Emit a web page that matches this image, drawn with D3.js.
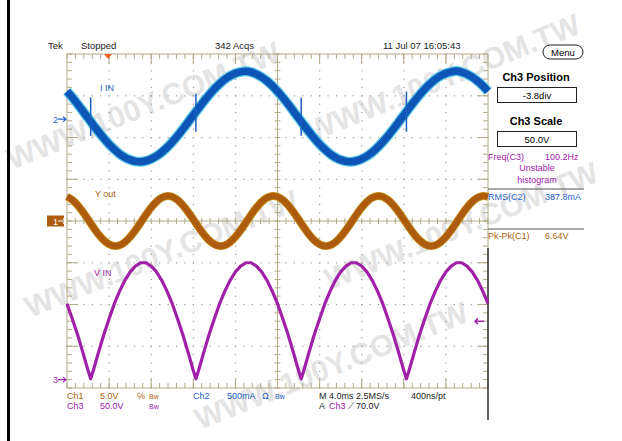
<!DOCTYPE html>
<head>
<meta charset="utf-8">
<style>
  body { margin: 0; background: #fff; }
  svg text { font-family: 'Liberation Sans', Arial, sans-serif; }
</style>
<title>Scope capture</title>
</head>
<body>
<svg width="622" height="441"></svg>
<script src="https://cdn.jsdelivr.net/npm/d3@7"></script>
<script>

// sample times (ms) for the sampled traces
var tMs = d3.range(0, 40.001, 0.5);

// Ch2, I IN (mA)
var iinMa = [333,260,181,98,13,-71,-153,-230,-301,-363,-417,-459,-488,-506,-510,-500,-478,-443,-397,-340,
  -273,-200,-121,-38,47,131,213,290,361,423,477,519,548,566,572,562,538,503,457,400,
  333,260,181,98,13,-71,-153,-230,-301,-363,-417,-459,-488,-506,-510,-500,-478,-443,-397,-340,
  -273,-200,-121,-38,47,131,213,290,361,423,477,519,548,566,575,562,538,503,457,400,
  333];

// switching spikes on I IN: [t ms, low mA, high mA]
var iinSpikes = [[2.25,-200,260],[12.25,-150,300],[22.25,-200,260],[32.25,-150,330]];

// Ch1, Y out (V)
var youtV = [2.91,2.53,1.91,1.10,0.19,-0.75,-1.61,-2.31,-2.79,-2.99,-2.91,-2.53,-1.91,-1.10,-0.19,0.75,1.61,2.31,2.79,2.99,
  2.91,2.53,1.91,1.10,0.19,-0.75,-1.61,-2.31,-2.79,-2.99,-2.91,-2.53,-1.91,-1.10,-0.19,0.75,1.61,2.31,2.79,2.99,
  2.91,2.53,1.91,1.10,0.19,-0.75,-1.61,-2.31,-2.79,-2.99,-2.91,-2.53,-1.91,-1.10,-0.19,0.75,1.61,2.31,2.79,2.99,
  2.91,2.53,1.91,1.10,0.19,-0.75,-1.61,-2.31,-2.79,-2.99,-2.91,-2.53,-1.91,-1.10,-0.19,0.75,1.61,2.31,2.79,2.99,
  2.91];

// Ch3, V IN (V) as [t ms, V]
var vinPts = [[0,91],[0.5,73],[1,54],[1.5,33],[2,11],[2.25,1],[2.5,11],[3,33],[3.5,54],[4,73],[4.5,91],[5,106],[5.5,119],
  [6,129],[6.5,136],[7,140],[7.5,140],[8,136],[8.5,129],[9,119],[9.5,106],[10,91],[10.5,73],[11,54],[11.5,33],[12,11],
  [12.25,1],[12.5,11],[13,33],[13.5,54],[14,73],[14.5,91],[15,106],[15.5,119],[16,129],[16.5,136],[17,140],[17.5,140],
  [18,136],[18.5,129],[19,119],[19.5,106],[20,91],[20.5,73],[21,54],[21.5,33],[22,11],[22.25,1],[22.5,11],[23,33],
  [23.5,54],[24,73],[24.5,91],[25,106],[25.5,119],[26,129],[26.5,136],[27,140],[27.5,140],[28,136],[28.5,129],[29,119],
  [29.5,106],[30,91],[30.5,73],[31,54],[31.5,33],[32,11],[32.25,1],[32.5,11],[33,33],[33.5,54],[34,73],[34.5,91],
  [35,106],[35.5,119],[36,129],[36.5,136],[37,140],[37.5,140],[38,136],[38.5,129],[39,119],[39.5,106],[40,91]];

// channel settings: volts (or mA) per div, position in div
var ch1Scale = 5, ch1Pos = 0;
var ch2Scale = 500, ch2Pos = 2.44;
var ch3Scale = 50, ch3Pos = -3.8;
var trigTimeMs = 3.9, trigLevelV = 70;

var headerTexts = ["Tek", "Stopped", "342 Acqs", "11 Jul 07 16:05:43"];
var measureRows = [["Freq(C3)", "100.2Hz"], ["RMS(C2)", "387.8mA"], ["Pk-Pk(C1)", "6.64V"]];

var purple = "#a020a8", brown = "#ad5c0e", blue = "#1c5fc4";

var svg = d3.select("svg");
var L = 67, R = 488, T = 54, B = 388;

var x = d3.scaleLinear().domain([0, 40]).range([L, R]);
var yDiv = d3.scaleLinear().domain([-4, 4]).range([B, T]);
var y1 = d3.scaleLinear().domain([(-4 - ch1Pos) * ch1Scale, (4 - ch1Pos) * ch1Scale]).range([B, T]);
var y2 = d3.scaleLinear().domain([(-4 - ch2Pos) * ch2Scale, (4 - ch2Pos) * ch2Scale]).range([B, T]);
var y3 = d3.scaleLinear().domain([(-4 - ch3Pos) * ch3Scale, (4 - ch3Pos) * ch3Scale]).range([B, T]);

// watermark (drawn first, faint)
var wm = svg.append("g").attr("fill", "#e4e4e4")
  .attr("font-family", "'Liberation Serif', serif").attr("font-weight", "bold").attr("font-size", 30);
var wmPos = [[12, 170], [312, 142], [30, 318], [330, 290], [200, 430]];
wmPos.forEach(function(p) {
  wm.append("text").attr("transform", "translate(" + p[0] + "," + p[1] + ") rotate(-22)").text("WWW.100Y.COM.TW");
});

// left black edge
svg.append("rect").attr("x", 7).attr("y", 0).attr("width", 3).attr("height", 441).attr("fill", "#000");

// graticule
var grat = svg.append("g");
var gcol = "#b3aa8a";
var minorX = d3.range(0, 40.001, 0.8), minorY = d3.range(-4, 4.001, 0.2);
[1,2,3,4,6,7,8,9].forEach(function(d) {
  grat.selectAll(null).data(minorY).enter().append("rect")
    .attr("x", x(d * 4) - 0.5).attr("y", function(v) { return yDiv(v) - 0.5; })
    .attr("width", 1.2).attr("height", 1.2).attr("fill", "#9a9a9a");
});
[-3,-2,-1,1,2,3].forEach(function(d) {
  grat.selectAll(null).data(minorX).enter().append("rect")
    .attr("x", function(v) { return x(v) - 0.5; }).attr("y", yDiv(d) - 0.5)
    .attr("width", 1.2).attr("height", 1.2).attr("fill", "#9a9a9a");
});
grat.append("rect").attr("x", L).attr("y", T).attr("width", R - L).attr("height", B - T)
  .attr("fill", "none").attr("stroke", gcol).attr("stroke-width", 1);
grat.append("line").attr("x1", x(20)).attr("x2", x(20)).attr("y1", T).attr("y2", B).attr("stroke", gcol);
grat.append("line").attr("x1", L).attr("x2", R).attr("y1", yDiv(0)).attr("y2", yDiv(0)).attr("stroke", gcol);
// ticks on frame and centre lines
grat.selectAll(null).data(minorX).enter().append("path")
  .attr("d", function(v) {
    var px = x(v), c = yDiv(0);
    return "M" + px + "," + T + "v5M" + px + "," + B + "v-5M" + px + "," + (c - 3) + "v6";
  })
  .attr("stroke", gcol);
grat.selectAll(null).data(minorY).enter().append("path")
  .attr("d", function(v) {
    var py = yDiv(v), c = x(20);
    return "M" + L + "," + py + "h5M" + R + "," + py + "h-5M" + (c - 3) + "," + py + "h6";
  })
  .attr("stroke", gcol);
[-3,-2,-1,1,2,3].forEach(function(d) {
  grat.append("path").attr("d", "M" + L + "," + yDiv(d) + "h11M" + R + "," + yDiv(d) + "h-11").attr("stroke", gcol);
});
[1,2,3,4,6,7,8,9].forEach(function(d) {
  grat.append("path").attr("d", "M" + x(d * 4) + "," + T + "v10M" + x(d * 4) + "," + B + "v-10").attr("stroke", gcol);
});

// separator on right of graticule
svg.append("line").attr("x1", R).attr("x2", R).attr("y1", 248).attr("y2", 420)
  .attr("stroke", "#333").attr("stroke-width", 1.5);

// traces
var traces = svg.append("g");
var lineI = d3.line().x(function(d, i) { return x(tMs[i]); }).y(function(d) { return y2(d); }).curve(d3.curveCatmullRom);
var lineY = d3.line().x(function(d, i) { return x(tMs[i]); }).y(function(d) { return y1(d); }).curve(d3.curveCatmullRom);
var lineV = d3.line().x(function(d) { return x(d[0]); }).y(function(d) { return y3(d[1]); });

traces.append("path").datum(iinMa).attr("d", lineI).attr("fill", "none").attr("stroke", "#5ccbe8").attr("stroke-width", 10);
traces.append("path").datum(iinMa).attr("d", lineI).attr("fill", "none").attr("stroke", "#0d56b8").attr("stroke-width", 7.5);
traces.selectAll(".spike").data(iinSpikes).enter().append("line")
  .attr("x1", function(d) { return x(d[0]); }).attr("x2", function(d) { return x(d[0]); })
  .attr("y1", function(d) { return y2(d[1]); }).attr("y2", function(d) { return y2(d[2]); })
  .attr("stroke", "#1a5fc0").attr("stroke-width", 1.5);

traces.append("path").datum(youtV).attr("d", lineY).attr("fill", "none").attr("stroke", "#c99a22").attr("stroke-width", 8);
traces.append("path").datum(youtV).attr("d", lineY).attr("fill", "none").attr("stroke", brown).attr("stroke-width", 6.5);

traces.append("path").datum(vinPts).attr("d", lineV).attr("fill", "none").attr("stroke", purple)
  .attr("stroke-width", 3.2).attr("stroke-linejoin", "round");

// trace labels
svg.append("text").attr("x", 100).attr("y", 91).attr("font-size", 9).attr("fill", blue).text("I IN");
svg.append("text").attr("x", 95).attr("y", 197).attr("font-size", 9).attr("fill", brown).text("Y out");
svg.append("text").attr("x", 94).attr("y", 276).attr("font-size", 9).attr("fill", purple).text("V IN");

// ground markers
function marker(label, yPos, col, boxed) {
  var g = svg.append("g");
  if (boxed) {
    g.append("rect").attr("x", 47).attr("y", yPos - 5.5).attr("width", 17).attr("height", 11).attr("fill", col);
  }
  g.append("text").attr("x", 53).attr("y", yPos + 3.5).attr("font-size", 9)
    .attr("fill", boxed ? "#fff" : col).text(label);
  g.append("path").attr("d", "M58," + yPos + "h8M63," + (yPos - 2.5) + "l3,2.5l-3,2.5")
    .attr("stroke", boxed ? "#fff" : col).attr("fill", "none").attr("stroke-width", 1.2);
}
marker("2", y2(0), blue, false);
marker("1", y1(0), brown, true);
marker("3", y3(0), purple, false);

// trigger markers
svg.append("path").attr("d", "M" + (x(trigTimeMs) - 4) + "," + T + "h8l-4,5z").attr("fill", "#f2621e");
var ty = y3(trigLevelV);
svg.append("path").attr("d", "M475," + ty + "h9M478," + (ty - 3) + "l-3,3l3,3")
  .attr("stroke", purple).attr("fill", "none").attr("stroke-width", 1.5);

// header
var hx = [48, 81, 215, 383];
svg.selectAll(".hdr").data(headerTexts).enter().append("text")
  .attr("x", function(d, i) { return hx[i]; }).attr("y", 49)
  .attr("font-size", 9.5).attr("fill", "#222").text(function(d) { return d; });

// right panel
var panel = svg.append("g");
panel.append("rect").attr("x", 543).attr("y", 45).attr("width", 40).attr("height", 14).attr("rx", 7)
  .attr("fill", "#fff").attr("stroke", "#222");
panel.append("text").attr("x", 563).attr("y", 56).attr("text-anchor", "middle").attr("font-size", 9.5).text("Menu");
panel.append("text").attr("x", 536).attr("y", 81).attr("text-anchor", "middle").attr("font-size", 11)
  .attr("font-weight", "bold").text("Ch3 Position");
panel.append("rect").attr("x", 497.5).attr("y", 87.5).attr("width", 79).attr("height", 15).attr("fill", "#fff").attr("stroke", "#222");
panel.append("text").attr("x", 537).attr("y", 99).attr("text-anchor", "middle").attr("font-size", 9.5).text(ch3Pos.toFixed(1) + "div");
panel.append("text").attr("x", 536).attr("y", 125).attr("text-anchor", "middle").attr("font-size", 11)
  .attr("font-weight", "bold").text("Ch3 Scale");
panel.append("rect").attr("x", 497.5).attr("y", 131.5).attr("width", 79).attr("height", 15).attr("fill", "#fff").attr("stroke", "#222");
panel.append("text").attr("x", 537).attr("y", 143).attr("text-anchor", "middle").attr("font-size", 9.5).text(ch3Scale.toFixed(1) + "V");

var mCols = [purple, "#2866cc", "#b0600e"], mY = [160, 200, 239];
measureRows.forEach(function(r, i) {
  panel.append("text").attr("x", 488).attr("y", mY[i]).attr("font-size", 9).attr("fill", mCols[i]).text(r[0]);
  panel.append("text").attr("x", 545).attr("y", mY[i]).attr("font-size", 9).attr("fill", mCols[i]).text(r[1]);
});
panel.append("text").attr("x", 537).attr("y", 171).attr("text-anchor", "middle").attr("font-size", 9).attr("fill", purple).text("Unstable");
panel.append("text").attr("x", 537).attr("y", 183).attr("text-anchor", "middle").attr("font-size", 9).attr("fill", purple).text("histogram");
panel.append("line").attr("x1", 488).attr("x2", 584).attr("y1", 189).attr("y2", 189).attr("stroke", "#555");
panel.append("line").attr("x1", 488).attr("x2", 584).attr("y1", 229).attr("y2", 229).attr("stroke", "#555");

// bottom status line
var st = svg.append("g").attr("font-size", 9);
function stxt(xp, yp, s, col) { return st.append("text").attr("x", xp).attr("y", yp).attr("fill", col).text(s); }
stxt(67, 399, "Ch1", brown); stxt(100, 399, ch1Scale.toFixed(1) + "V", brown); stxt(137, 399, "℅", brown);
stxt(149, 399, "Bw", brown).attr("font-size", 7);
stxt(193, 399, "Ch2", blue); stxt(227, 399, ch2Scale + "mA", blue); stxt(262, 399, "Ω", blue);
stxt(275, 399, "Bw", blue).attr("font-size", 7);
stxt(319, 399, "M 4.0ms 2.5MS/s", "#222"); stxt(411, 399, "400ns/pt", "#222");
stxt(67, 409, "Ch3", purple); stxt(100, 409, ch3Scale.toFixed(1) + "V", purple);
stxt(149, 409, "Bw", purple).attr("font-size", 7);
stxt(319, 409, "A", "#222"); stxt(329, 409, "Ch3", purple); stxt(348, 409, "⟋", "#222");
stxt(356, 409, trigLevelV.toFixed(1) + "V", "#222");

</script>
</body>
